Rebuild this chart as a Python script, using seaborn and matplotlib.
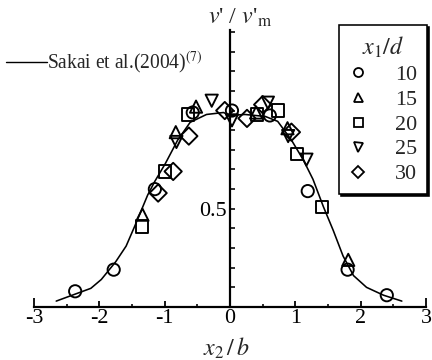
import matplotlib
matplotlib.use("Agg")
import matplotlib.pyplot as plt
import pandas as pd
import seaborn as sns
from matplotlib.lines import Line2D

# Reference profile, Sakai et al. (2004)
curve_x = [-2.66, -2.13, -1.97, -1.75, -1.59, -1.46, -1.36, -1.26, -1.15, -0.99,
           -0.80, -0.61, -0.36, -0.10, 0.0, 0.23, 0.54, 0.73, 0.94, 1.12, 1.27,
           1.43, 1.58, 1.73, 1.89, 2.09, 2.35, 2.63]
curve_y = [0.03, 0.095, 0.14, 0.23, 0.31, 0.41, 0.49, 0.57, 0.64, 0.73,
           0.85, 0.94, 0.98, 0.99, 0.975, 0.98, 0.97, 0.945, 0.85, 0.75, 0.65,
           0.51, 0.39, 0.26, 0.16, 0.10, 0.06, 0.03]

# Measured profiles for each downstream station x1/d
stations = ["10", "15", "20", "25", "30"]
x_10 = [-2.37, -1.78, -1.15, -0.57, 0.03, 0.61, 1.19, 1.80, 2.40]
y_10 = [0.08, 0.19, 0.60, 0.99, 1.00, 0.975, 0.59, 0.19, 0.06]
x_15 = [-1.34, -0.83, -0.52, 0.40, 0.88, 1.81]
y_15 = [0.47, 0.89, 1.02, 0.99, 0.91, 0.24]
x_20 = [-1.35, -1.00, -0.64, 0.41, 0.74, 1.02, 1.41]
y_20 = [0.41, 0.69, 0.98, 0.98, 1.00, 0.78, 0.51]
x_25 = [-0.82, -0.28, 0.03, 0.58, 0.89, 1.17]
y_25 = [0.84, 1.05, 0.95, 1.04, 0.87, 0.75]
x_30 = [-1.10, -0.87, -0.63, -0.08, 0.26, 0.50, 0.94]
y_30 = [0.58, 0.69, 0.87, 1.00, 0.96, 1.03, 0.89]

marker_map = {"10": "o", "15": "^", "20": "s", "25": "v", "30": "D"}

frames = []
for st, xs, ys in zip(stations, [x_10, x_15, x_20, x_25, x_30],
                      [y_10, y_15, y_20, y_25, y_30]):
    frames.append(pd.DataFrame({"x": xs, "y": ys, "station": st}))
df = pd.concat(frames, ignore_index=True)

sns.set_theme(style="white")
plt.rcParams["font.family"] = ["Liberation Serif", "DejaVu Serif"]
plt.rcParams["mathtext.fontset"] = "stix"
plt.rcParams["axes.unicode_minus"] = False

fig = plt.figure(figsize=(6, 5), dpi=72)
ax = fig.add_axes([34 / 432, 53 / 360, 392 / 432, 277 / 360])

sns.lineplot(x=curve_x, y=curve_y, ax=ax, color="black", lw=1.6,
             sort=False, estimator=None)
sns.scatterplot(data=df, x="x", y="y", style="station", markers=marker_map,
                ax=ax, s=150, facecolor="none", edgecolor="black",
                linewidth=1.9, legend=False, zorder=3)
for coll in ax.collections:
    coll.set_facecolor("none")

ax.set_xlim(-3, 3)
ax.set_ylim(0, 1.41)

# Axes drawn through the origin
for side in ["top", "right"]:
    ax.spines[side].set_visible(False)
ax.spines["left"].set_position(("data", 0))
ax.spines["bottom"].set_position(("data", 0))
for side in ["left", "bottom"]:
    ax.spines[side].set_linewidth(2.2)
    ax.spines[side].set_color("black")

ax.set_xticks([-3, -2, -1, 0, 1, 2, 3])
ax.set_xticklabels(["-3", "-2", "-1", "0", "1", "2", "3"])
ax.set_xticks([-2.5, -1.5, -0.5, 0.5, 1.5, 2.5], minor=True)
y_ticks = [0.1, 0.2, 0.3, 0.4, 0.5, 0.6, 0.7, 0.8, 0.9, 1.0, 1.1, 1.2, 1.3, 1.4]
ax.set_yticks(y_ticks)
ax.set_yticklabels(["0.5" if abs(t - 0.5) < 1e-9 else "" for t in y_ticks])

ax.tick_params(axis="x", which="both", bottom=True)
ax.tick_params(axis="y", which="both", left=True)
ax.tick_params(axis="x", which="major", direction="in", length=6, width=1.8,
               labelsize=22, pad=2, colors="black")
ax.tick_params(axis="x", which="minor", direction="in", length=3.5, width=1.6,
               colors="black")
ax.tick_params(axis="y", which="major", direction="in", length=4.5, width=1.6,
               labelsize=22, pad=3, colors="black")
xt = ax.xaxis.get_major_ticks()
for t in (xt[0], xt[-1]):
    t.tick1line.set_markersize(9)
ax.set_xlabel("")
ax.set_ylabel("")

fig.text(240 / 432, 1 - 18 / 360, r"$v$' / $v$'$_{\mathrm{m}}$", fontsize=24,
         ha="center", va="center")
fig.text(226 / 432, 1 - 348 / 360, r"$x_2\,/\,b$", fontsize=24,
         ha="center", va="center")

# Station legend
handles = [Line2D([], [], ls="none", marker=marker_map[s], markersize=9,
                  markerfacecolor="none", markeredgecolor="black",
                  markeredgewidth=1.8) for s in stations]
leg = ax.legend(handles, stations, title=r"$x_1/d$", loc="upper right",
                bbox_to_anchor=(427 / 432, 1 - 25 / 360),
                bbox_transform=fig.transFigure, fontsize=22, title_fontsize=24,
                frameon=True, fancybox=False, shadow={"color": "black", "alpha": 1},
                handlelength=0.8, handletextpad=1.3, labelspacing=0.2,
                borderpad=0.45, borderaxespad=0)
leg.get_frame().set_edgecolor("black")
leg.get_frame().set_linewidth(1.6)
ax.add_artist(leg)

# Reference-curve key
ref = ax.legend([Line2D([], [], color="black", lw=1.4)],
                ["Sakai et al.(2004)$^{(7)}$"], loc="center left",
                bbox_to_anchor=(6 / 432, 1 - 63 / 360),
                bbox_transform=fig.transFigure, fontsize=19.5, frameon=False,
                handlelength=2.1, handletextpad=0.0, borderpad=0,
                borderaxespad=0)

fig.savefig("out.png", dpi=72)
